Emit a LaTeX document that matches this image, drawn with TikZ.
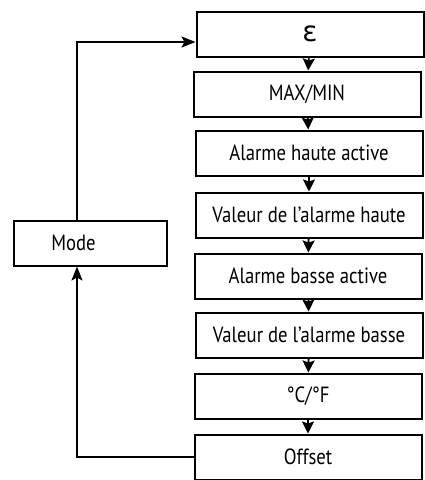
\documentclass[tikz,border=0pt]{standalone}
\usepackage{fontspec}
\setmainfont{PT Sans}[FakeStretch=0.85]
\newfontfamily\grk{DejaVu Sans}
\usetikzlibrary{positioning,calc,arrows.meta}
\newcommand*{\stp}[1]{\fontsize{22}{24}\selectfont #1}

\begin{document}
\begin{tikzpicture}[x=1pt,y=-1pt,
  box/.style={draw,line width=2pt,minimum width=227pt,minimum height=45pt,inner sep=0pt},
  flow/.style={line width=1.8pt,-{Stealth[length=12pt,width=12pt,inset=2pt]}},
  back/.style={line width=1.8pt,-{Stealth[length=14pt,width=11pt,inset=3pt]}}]
\useasboundingbox (0,0) rectangle (424,480);
% Menu steps, top to bottom
\node[box] (eps)  at (310,34)  {{\grk\fontsize{28}{30}\selectfont ε}};
\node[box] (mm)   at (307,94)  {\stp{MAX/MIN}};
\node[box] (aha)  at (309,153) {\stp{Alarme haute active}};
\node[box] (vah)  at (309,215) {\stp{Valeur de l'alarme haute}};
\node[box] (aba)  at (308,276) {\stp{Alarme basse active}};
\node[box] (vab)  at (309,335) {\stp{Valeur de l'alarme basse}};
\node[box] (unit) at (308,396) {\stp{°C/°F}};
\node[box] (off)  at (308,457) {\stp{Offset}};
% Mode key on the left
\node[box,minimum width=153pt] (mode) at (90,243) {\stp{Mode\hspace{33pt}\null}};
% Turning points of the loop
\coordinate (turn) at (77,0);
% Steps one after another
\draw[flow] (eps) -- (mm);
\draw[flow] (mm) -- (aha);
\draw[flow] (aha) -- (vah);
\draw[flow] (vah) -- (aba);
\draw[flow] (aba) -- (vab);
\draw[flow] (vab) -- (unit);
\draw[flow] (unit) -- (off);
% Loop back through Mode
\draw[back] (off.west) -| (mode.south -| turn);
\draw[back] (mode.north -| turn) |- ([yshift=-8pt]eps.west);
\end{tikzpicture}
\end{document}
